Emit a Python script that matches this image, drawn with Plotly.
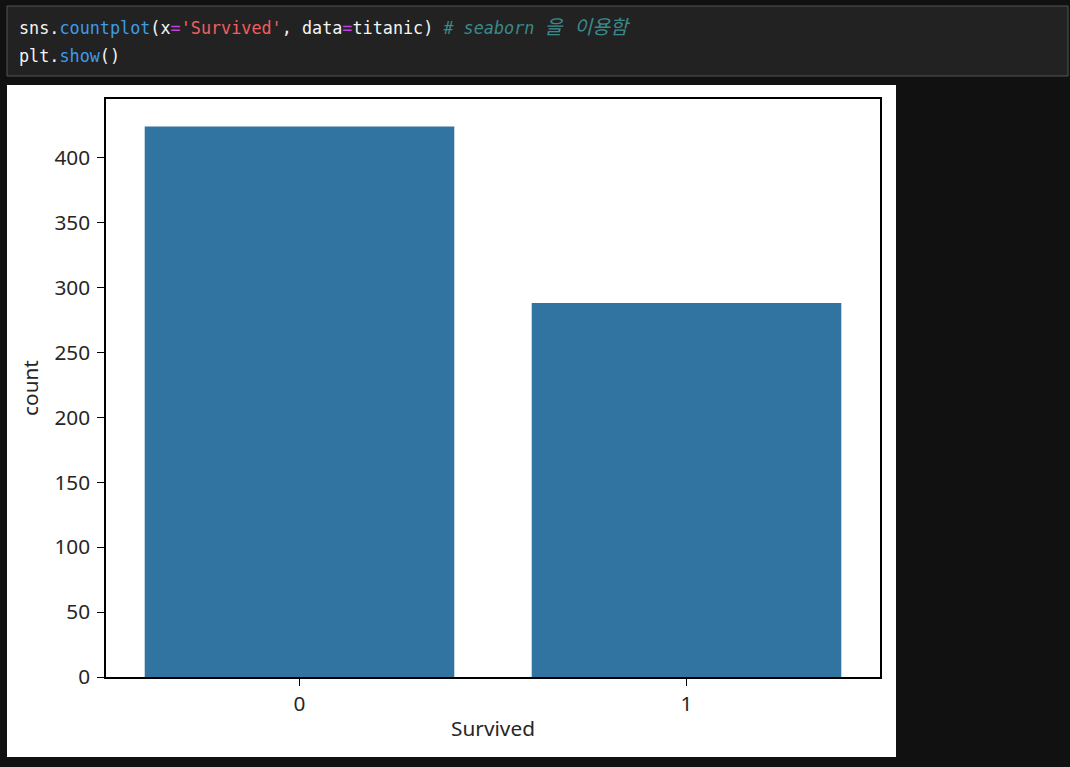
import plotly.graph_objects as go

# data
survived = ["0", "1"]
counts = [424, 288]
y_ticks = [0, 50, 100, 150, 200, 250, 300, 350, 400]

W, H = 1070, 767
L, R, T, B = 106, 880, 99, 677  # plot area in pixels


def px(x):
    return (x - L) / (R - L)


def py(y):
    return (B - y) / (B - T)


fig = go.Figure()

fig.add_trace(go.Bar(
    x=survived,
    y=counts,
    width=0.8,
    marker=dict(color="#3274a1", line=dict(width=0)),
    hoverinfo="x+y",
))

axis_font = dict(family="Noto Sans, Open Sans, sans-serif", size=20.8, color="#262626")
axis_style = dict(
    showline=True, mirror=True, linecolor="black", linewidth=1.5,
    ticks="outside", ticklen=7, tickwidth=1.3, tickcolor="black",
    showgrid=False, zeroline=False, tickfont=axis_font,
)

fig.update_xaxes(type="category", range=[-0.5, 1.5],
                 title=dict(text="Survived", font=axis_font, standoff=6),
                 **axis_style)
fig.update_yaxes(range=[0, max(counts) * 1.05], tickvals=y_ticks,
                 ticklabelstandoff=3,
                 title=dict(text="count", font=axis_font, standoff=10),
                 **axis_style)

# notebook chrome: code cell and white output image
shapes = [
    dict(type="rect", xref="paper", yref="paper", layer="below",
         x0=px(7), x1=px(1068), y0=py(76), y1=py(6),
         fillcolor="#222222", line=dict(color="#555555", width=1)),
    dict(type="rect", xref="paper", yref="paper", layer="below",
         x0=px(7), x1=px(896), y0=py(757), y1=py(85),
         fillcolor="white", line=dict(width=0)),
]

WHITE = "#f4f4f4"
BLUE = "#3d9be9"
MAG = "#c13fe0"
RED = "#f25e5e"
TEAL = "#3a8a8c"

line1 = (f'<span style="color:{WHITE}">sns.</span>'
         f'<span style="color:{BLUE}">countplot</span>'
         f'<span style="color:{WHITE}">(x</span>'
         f'<span style="color:{MAG}">=</span>'
         f'<span style="color:{RED}">\'Survived\'</span>'
         f'<span style="color:{WHITE}">, data</span>'
         f'<span style="color:{MAG}">=</span>'
         f'<span style="color:{WHITE}">titanic)</span> '
         f'<span style="color:{TEAL}"><i># seaborn </i></span>'
         f'<span style="color:{TEAL};font-size:19.5px"><i>을 이용함</i></span>')
line2 = (f'<span style="color:{WHITE}">plt.</span>'
         f'<span style="color:{BLUE}">show</span>'
         f'<span style="color:{WHITE}">()</span>')

code_font = dict(family="DejaVu Sans Mono, Noto Sans CJK KR, monospace", size=16.8, color=WHITE)
annotations = [
    dict(text=line1, x=px(17), y=py(27), xref="paper", yref="paper",
         xanchor="left", yanchor="middle", showarrow=False, font=code_font),
    dict(text=line2, x=px(17), y=py(56), xref="paper", yref="paper",
         xanchor="left", yanchor="middle", showarrow=False, font=code_font),
]

fig.update_layout(
    width=W, height=H,
    margin=dict(l=L, r=W - R, t=T, b=H - B, pad=0),
    paper_bgcolor="#111111",
    plot_bgcolor="white",
    showlegend=False,
    bargap=0.2,
    shapes=shapes,
    annotations=annotations,
)

fig.write_html(
    "out.html",
    config={"displayModeBar": False},
    post_script="document.body.style.margin='0';document.body.style.background='#111111';",
)
